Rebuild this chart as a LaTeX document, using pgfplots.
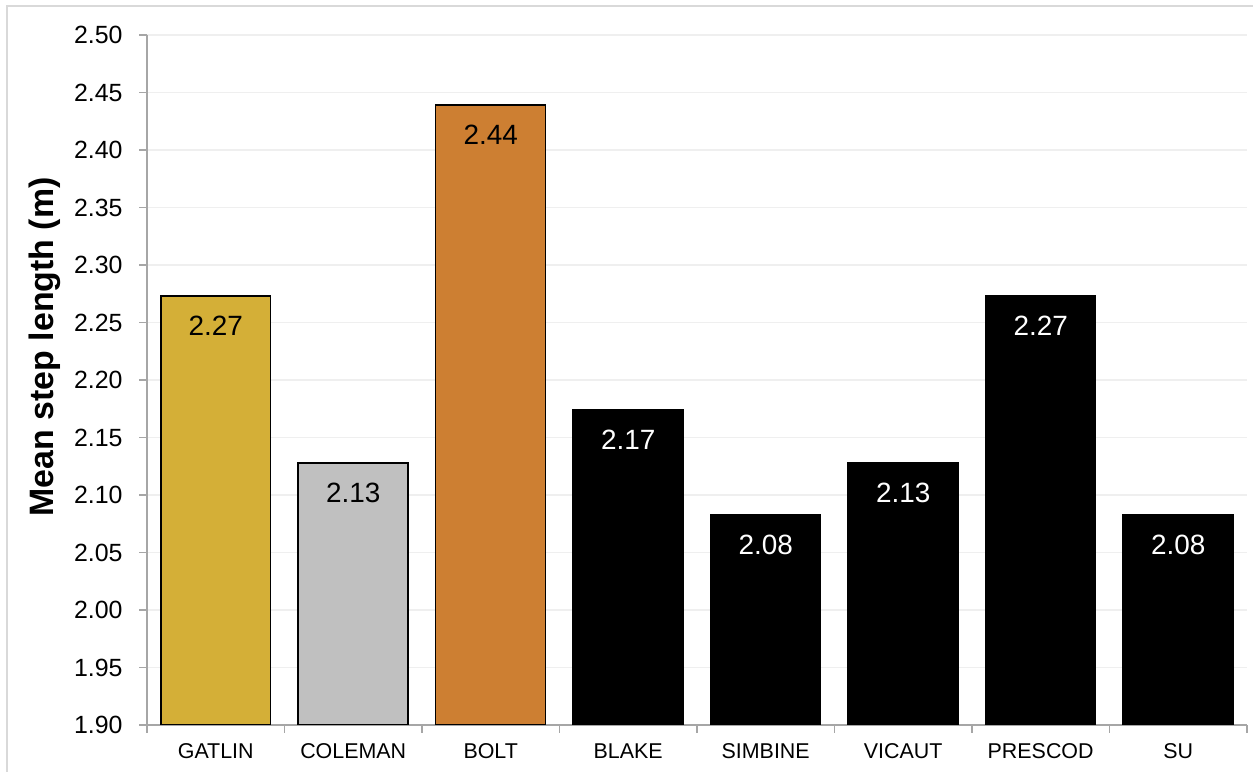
\documentclass[border=0pt]{standalone}
\usepackage{pgfplots}
\pgfplotsset{compat=1.18}
\usepackage{fontspec}
\setmainfont{Liberation Sans}

\definecolor{gold}{HTML}{D4AF37}
\definecolor{silver}{HTML}{C0C0C0}
\definecolor{bronze}{HTML}{CD7F32}
\definecolor{axisgray}{HTML}{A6A6A6}
\definecolor{gridgray}{HTML}{EFEFEF}
\definecolor{framegray}{HTML}{D9D9D9}

\begin{document}
\begin{tikzpicture}[x=1bp,y=1bp]
\useasboundingbox (0,0) rectangle (1253,772);
\draw[framegray, line width=2bp] (7,0) -- (7,766) -- (1253,766);
\begin{axis}[
  at={(147bp,47bp)}, anchor=south west,
  scale only axis, width=1100bp, height=690bp,
  ybar, bar width=0.8, bar shift=0pt,
  xmin=-0.5, xmax=7.5, ymin=1.90, ymax=2.50,
  axis x line*=bottom, axis y line*=left,
  axis line style={axisgray, line width=1.5bp, -},
  tick align=outside, major tick length=8bp,
  tick style={axisgray, line width=1.5bp},
  xtick={-0.5,0.5,...,7.5},
  xticklabels={GATLIN,COLEMAN,BOLT,BLAKE,SIMBINE,VICAUT,PRESCOD,SU},
  x tick label as interval,
  xticklabel style={font=\fontsize{21.5}{25}\selectfont, text=black, yshift=-7bp},
  ytick={1.90,1.95,2.00,2.05,2.10,2.15,2.20,2.25,2.30,2.35,2.40,2.45,2.50},
  yticklabel style={font=\fontsize{25}{30}\selectfont, text=black, xshift=-13bp},
  /pgf/number format/assume math mode=true,
  yticklabel={\pgfmathprintnumber[fixed,fixed zerofill,precision=2]{\tick}},
  ymajorgrids, grid style={gridgray, line width=1.5bp},
  ylabel={\bfseries Mean step length (m)},
  ylabel style={font=\fontsize{34}{40}\selectfont, at={(rel axis cs:-0.0927,0.548)}, anchor=center},
  nodes near coords={\pgfmathprintnumber[fixed,fixed zerofill,precision=2]{\pgfplotspointmeta}},
  every node near coord/.append style={anchor=center, yshift=-30bp, font=\fontsize{28}{32}\selectfont},
]
\addplot[fill=gold, draw=black, line width=1.5bp, nodes near coords style={text=black}] coordinates {(0,2.273)};
\addplot[fill=silver, draw=black, line width=1.5bp, nodes near coords style={text=black}] coordinates {(1,2.128)};
\addplot[fill=bronze, draw=black, line width=1.5bp, nodes near coords style={text=black}] coordinates {(2,2.439)};
\addplot[fill=black, draw=black, line width=1.5bp, nodes near coords style={text=white}] coordinates {
  (3,2.174) (4,2.083) (5,2.128) (6,2.273) (7,2.083)};
\end{axis}
\end{tikzpicture}
\end{document}
